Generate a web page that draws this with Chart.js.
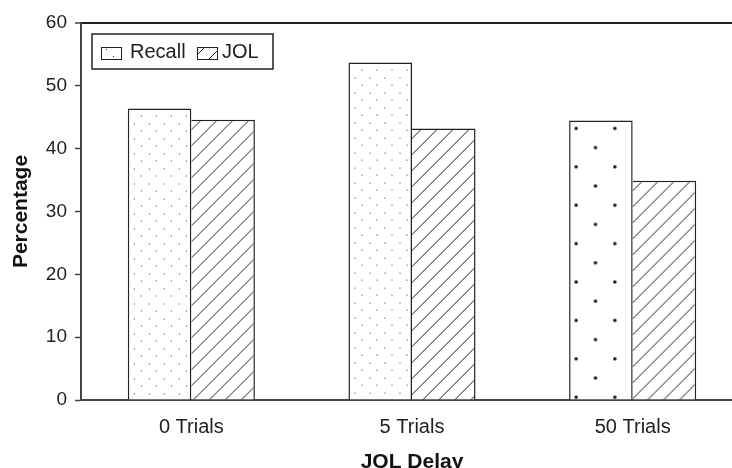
<!DOCTYPE html>
<html><head><meta charset="utf-8">
<script src="https://cdn.jsdelivr.net/npm/chart.js@4"></script>
<style>html,body{margin:0;padding:0;background:#fff;overflow:hidden}</style>
</head><body>
<canvas id="c" width="743" height="474"></canvas>
<script>
const categories = ['0 Trials', '5 Trials', '50 Trials'];
const seriesNames = ['Recall', 'JOL'];
const recallValues = [46.4, 53.7, 44.5];
const jolValues = [44.6, 43.2, 34.9];
const yTicks = [0, 10, 20, 30, 40, 50, 60];
const xTitle = 'JOL Delay';
const yTitle = 'Percentage';

const FONT = '"Liberation Sans", Arial, Helvetica, sans-serif';
Chart.defaults.font.family = FONT;
Chart.defaults.color = '#222';

function makeTile(w, h, draw) {
  const c = document.createElement('canvas');
  c.width = w; c.height = h;
  const g = c.getContext('2d');
  g.fillStyle = '#fff'; g.fillRect(0, 0, w, h);
  draw(g);
  return document.createElement('canvas').getContext('2d').createPattern(c, 'repeat');
}
function finePattern() {
  return makeTile(15, 15, g => {
    g.fillStyle = '#333';
    g.fillRect(0, 0, 1, 1);
    g.fillRect(7, 7, 1, 1);
  });
}
function bigDotPattern() {
  return makeTile(40, 40, g => {
    g.fillStyle = '#111';
    g.beginPath(); g.arc(10, 10, 1.8, 0, Math.PI * 2); g.fill();
    g.beginPath(); g.arc(30, 30, 1.8, 0, Math.PI * 2); g.fill();
  });
}
function hatchPattern() {
  return makeTile(16, 16, g => {
    g.strokeStyle = '#222'; g.lineWidth = 1;
    [0, 16, 32].forEach(c => {
      g.beginPath(); g.moveTo(c + 2, -2); g.lineTo(-2, c + 2); g.stroke();
    });
  });
}

const recallFills = [finePattern(), finePattern(), bigDotPattern()];
const jolFills = [hatchPattern(), hatchPattern(), hatchPattern()];
const legendFills = [finePattern(), hatchPattern()];

const patternAlign = {
  id: 'patternAlign',
  beforeDatasetsDraw(chart) {
    chart.getDatasetMeta(0).data.forEach((bar, i) => {
      const left = bar.x - bar.width / 2, top = bar.y;
      const p = recallFills[i];
      if (i === 2) {
        const sx = 38.7 / 40, sy = 38.4 / 40;
        p.setTransform(new DOMMatrix().translate(left + 7 - 10 * sx, top + 8 - 10 * sy).scale(sx, sy));
      } else {
        p.setTransform(new DOMMatrix().translate(left + 6, top));
      }
    });
    chart.getDatasetMeta(1).data.forEach((bar, i) => {
      const left = bar.x - bar.width / 2, top = bar.y;
      jolFills[i].setTransform(new DOMMatrix().translate(left + 10, top));
    });
  }
};

const boxLegend = {
  id: 'boxLegend',
  afterDraw(chart) {
    const ctx = chart.ctx, a = chart.chartArea;
    const x0 = a.left + 11, y0 = a.top + 11, w = 181, h = 35;
    ctx.save();
    ctx.fillStyle = '#fff'; ctx.fillRect(x0, y0, w, h);
    ctx.strokeStyle = '#222'; ctx.lineWidth = 1.5; ctx.strokeRect(x0, y0, w, h);
    const pos = [{ sx: 20, tx: 49 }, { sx: 116, tx: 141 }];
    chart.data.datasets.forEach((ds, i) => {
      const sx = a.left + pos[i].sx, sy = a.top + 24;
      legendFills[i].setTransform(new DOMMatrix().translate(sx + (i === 0 ? 5 : 6), sy + 2));
      ctx.fillStyle = legendFills[i];
      ctx.fillRect(sx, sy, 20, 12);
      ctx.strokeStyle = '#222'; ctx.lineWidth = 1;
      ctx.strokeRect(sx + 0.5, sy + 0.5, 20, 12);
      ctx.fillStyle = '#222';
      ctx.font = '20px ' + FONT;
      ctx.textBaseline = 'middle';
      ctx.textAlign = 'left';
      ctx.fillText(ds.label, a.left + pos[i].tx, a.top + 29);
    });
    ctx.restore();
  }
};

new Chart(document.getElementById('c'), {
  type: 'bar',
  data: {
    labels: categories,
    datasets: [
      { label: seriesNames[0], data: recallValues, backgroundColor: recallFills,
        borderColor: '#222', borderWidth: { top: 1.5, left: 1.5, right: 1.5, bottom: 0 }, borderSkipped: false },
      { label: seriesNames[1], data: jolValues, backgroundColor: jolFills,
        borderColor: '#222', borderWidth: { top: 1.5, left: 0, right: 1.5, bottom: 0 }, borderSkipped: false }
    ]
  },
  options: {
    responsive: false,
    devicePixelRatio: 1,
    animation: false,
    layout: { padding: { top: 23, right: 0, left: 0, bottom: 0 } },
    datasets: { bar: { categoryPercentage: 0.576, barPercentage: 1 } },
    plugins: { legend: { display: false }, tooltip: { enabled: false } },
    scales: {
      x: {
        grid: { display: false, drawTicks: false },
        border: { display: true, color: '#444', width: 2 },
        ticks: { font: { size: 20 }, color: '#222', padding: 15 },
        title: { display: true, text: xTitle, font: { size: 21, weight: 'bold', lineHeight: 1 }, color: '#111', padding: { top: 0, bottom: 1 } },
        afterFit: s => { s.height = 74; }
      },
      y: {
        min: 0, max: 60,
        afterBuildTicks: s => { s.ticks = yTicks.map(v => ({ value: v })); },
        grid: {
          drawOnChartArea: true,
          color: c => (c.tick && c.tick.value === 60) ? '#222' : 'rgba(0,0,0,0)',
          lineWidth: c => (c.tick && c.tick.value === 60) ? 2 : 1,
          tickColor: '#444', tickLength: 6, tickWidth: 1.5
        },
        border: { display: true, color: '#444', width: 2 },
        ticks: { font: { size: 19 }, color: '#222', padding: 8 },
        title: { display: true, text: yTitle, font: { size: 21, weight: 'bold', lineHeight: 1.2 }, color: '#111', padding: { top: 9, bottom: 0 } },
        afterFit: s => { s.width = 81; }
      }
    }
  },
  plugins: [patternAlign, boxLegend]
});
</script>
</body></html>
